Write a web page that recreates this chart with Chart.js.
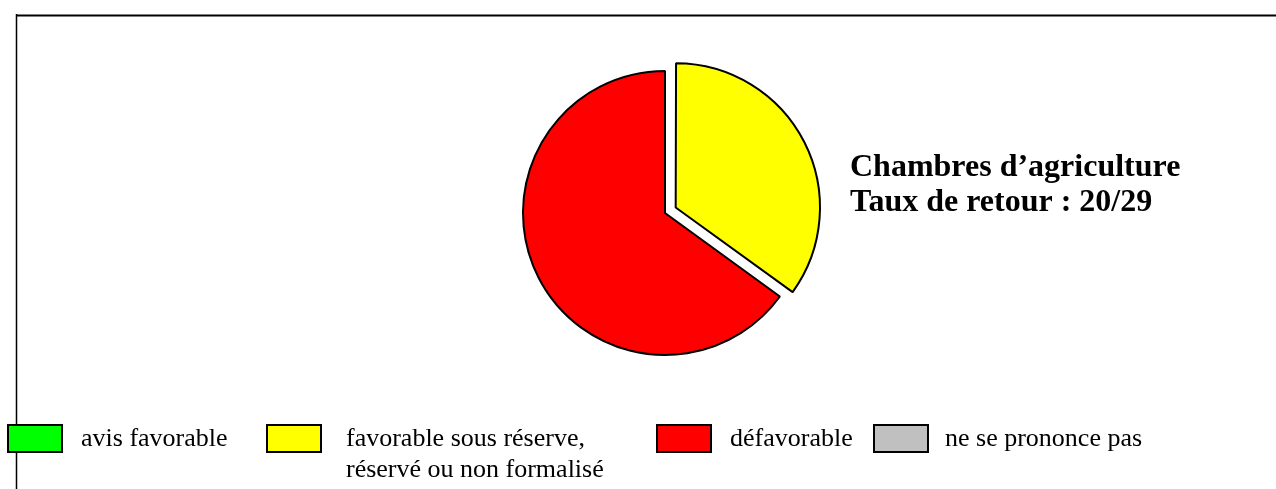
<!DOCTYPE html>
<html lang="fr">
<head>
<meta charset="utf-8">
<title>Chambres d'agriculture</title>
<script src="https://cdn.jsdelivr.net/npm/chart.js@4/dist/chart.umd.min.js"></script>
<style>
  html, body { margin: 0; padding: 0; background: #fff; }
  #wrap { position: relative; width: 1276px; height: 489px; }
</style>
</head>
<body>
<div id="wrap"><canvas id="pieChart"></canvas></div>
<script>
// ---- data ----
const categories = ['avis favorable', 'favorable sous réserve,\nréservé ou non formalisé', 'défavorable', 'ne se prononce pas'];
const counts = [0, 7, 13, 0];
const titleLines = ['Chambres d\u2019agriculture', 'Taux de retour : 20/29'];

// colours
const sliceColors = ['#00FF00', '#FFFF00', '#FF0000', '#C0C0C0'];
const serif = '"Liberation Serif", "Times New Roman", serif';

// legend columns (box x, text x), measured from the layout
const legendBoxX = [8, 267, 657, 874];
const legendTextX = [81, 346, 730, 945];

// frame, title and legend drawn around the pie
const decorations = {
  id: 'decorations',
  beforeDraw(chart) {
    const ctx = chart.ctx;
    ctx.save();
    ctx.fillStyle = '#fff';
    ctx.fillRect(0, 0, chart.width, chart.height);
    // frame: top double line + left line
    ctx.strokeStyle = '#808080';
    ctx.lineWidth = 1;
    ctx.beginPath(); ctx.moveTo(16, 14.5); ctx.lineTo(chart.width, 14.5); ctx.stroke();
    ctx.strokeStyle = '#000';
    ctx.lineWidth = 1.5;
    ctx.beginPath(); ctx.moveTo(16, 15.75); ctx.lineTo(chart.width, 15.75); ctx.stroke();
    ctx.beginPath(); ctx.moveTo(16.5, 14); ctx.lineTo(16.5, chart.height); ctx.stroke();
    ctx.restore();
  },
  afterDraw(chart) {
    const ctx = chart.ctx;
    ctx.save();
    // title
    ctx.fillStyle = '#000';
    ctx.textBaseline = 'alphabetic';
    ctx.font = 'bold 32px ' + serif;
    titleLines.forEach((t, i) => ctx.fillText(t, 850, 176 + i * 35));
    // legend
    ctx.font = '26px ' + serif;
    categories.forEach((label, i) => {
      ctx.fillStyle = sliceColors[i];
      ctx.fillRect(legendBoxX[i], 425, 54, 27);
      ctx.strokeStyle = '#000';
      ctx.lineWidth = 2;
      ctx.strokeRect(legendBoxX[i], 425, 54, 27);
      ctx.fillStyle = '#000';
      label.split('\n').forEach((line, j) => ctx.fillText(line, legendTextX[i], 446 + j * 31));
    });
    ctx.restore();
  }
};

new Chart(document.getElementById('pieChart'), {
  type: 'pie',
  data: {
    labels: categories,
    datasets: [{
      data: counts,
      backgroundColor: sliceColors,
      borderColor: '#000',
      borderWidth: 2,
      // Chart.js v4 draws arcs at offset/4
      offset: [0, 48, 0, 0]
    }]
  },
  options: {
    responsive: true,
    maintainAspectRatio: false,
    animation: false,
    events: [],
    radius: 142,
    layout: { padding: { left: 54, right: 0, top: 0, bottom: 63 } },
    plugins: {
      legend: { display: false },
      tooltip: { enabled: false }
    }
  },
  plugins: [decorations]
});
</script>
</body>
</html>
